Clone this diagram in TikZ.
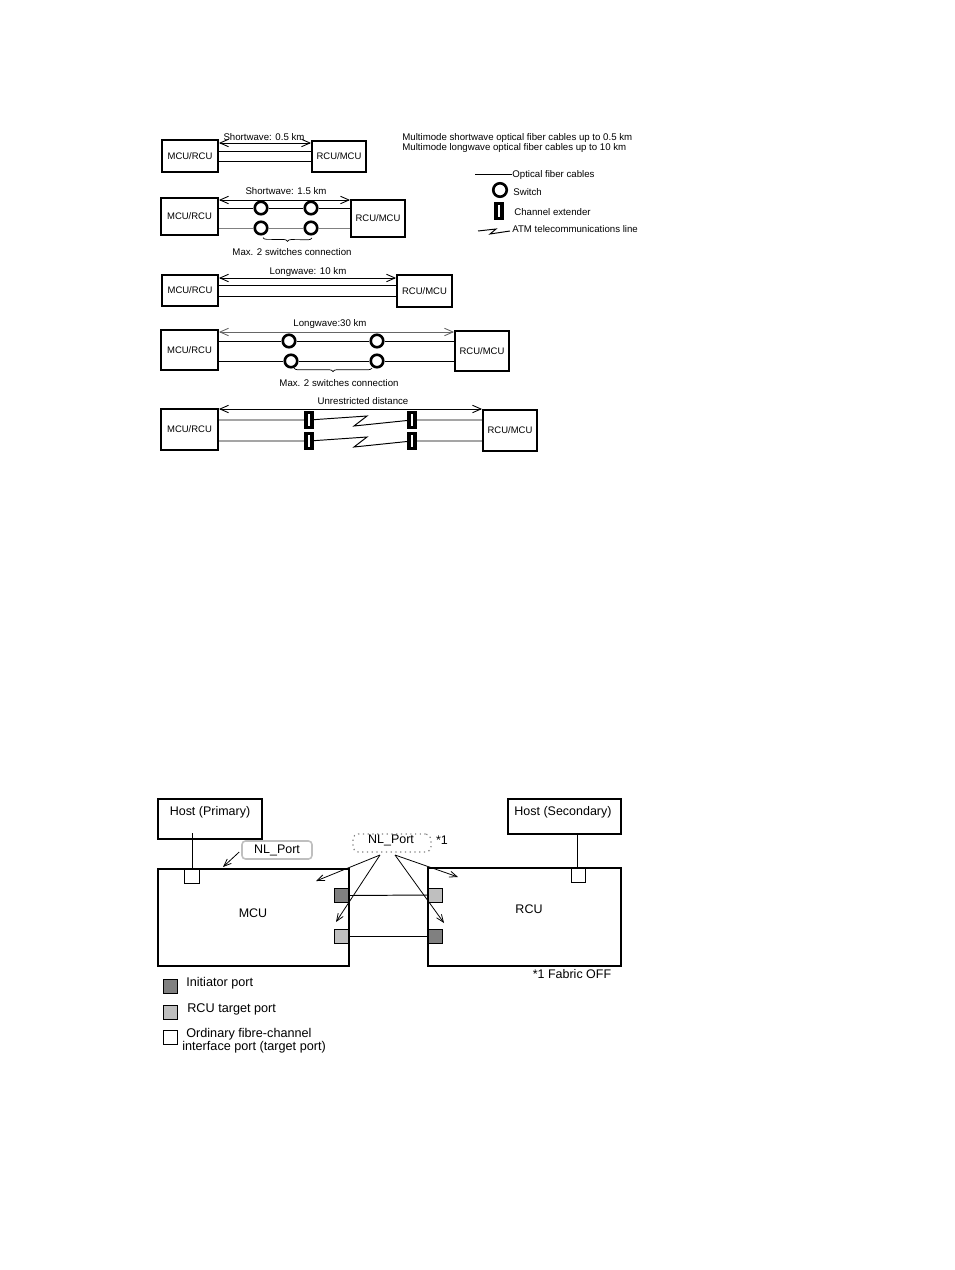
\documentclass[tikz,border=0pt]{standalone}
\usepackage{fontspec}
\setmainfont{Liberation Sans}
\usetikzlibrary{arrows.meta,decorations.pathreplacing}
\tikzset{
  unitbox/.style={draw, line width=1.1pt, minimum width=#1*0.02cm, inner sep=0pt, font=\fontsize{5.4}{6}\selectfont},
  bigbox/.style={draw, line width=1.2pt, inner sep=0pt},
  txt/.style={inner sep=0pt, font=\fontsize{5.5}{6}\selectfont},
  bigtxt/.style={inner sep=0pt, font=\fontsize{7.1}{8}\selectfont},
  keytxt/.style={inner sep=0pt, anchor=west, font=\fontsize{7.2}{8}\selectfont},
  swnode/.style={draw, circle, line width=1.5pt, minimum size=0.25cm, inner sep=0pt},
  extnode/.style={draw, line width=1.8pt, minimum width=0.12cm, minimum height=0.29cm, inner sep=0pt},
  cable/.style={line width=0.55pt},
  distline/.style={{Straight Barb[length=1.7mm,width=1.5mm]}-{Straight Barb[length=1.7mm,width=1.5mm]}, line width=0.5pt},
  pointer/.style={-{Straight Barb[length=1.5mm,width=1.2mm]}, line width=0.45pt},
  portbox/.style={draw, line width=0.55pt, minimum width=0.29cm, minimum height=0.28cm, inner sep=0pt},
  brace2/.style={decorate, decoration={brace, mirror, amplitude=2pt}, line width=0.4pt}
}
\begin{document}
\begin{tikzpicture}[x=0.02cm, y=-0.02cm]
\useasboundingbox (0,0) rectangle (954,1270);
% row 1
\node[unitbox=56, minimum height=0.64cm] (m1) at (190,156) {MCU/RCU};
\node[unitbox=54, minimum height=0.62cm] (r1) at (339,156.5) {RCU/MCU};
\node[txt] (t1) at (264,137) {Shortwave: 0.5 km};
\draw[distline] (m1.east |- 0,143) -- (r1.west |- 0,143);
\draw[cable] (m1.east |- 0,151) -- (r1.west |- 0,151);
\draw[cable] (m1.east |- 0,161) -- (r1.west |- 0,161);
% row 2
\node[unitbox=57, minimum height=0.74cm] (m2) at (189.5,216.5) {MCU/RCU};
\node[unitbox=54, minimum height=0.74cm] (r2) at (378,218.5) {RCU/MCU};
\node[txt] (t2) at (286,191) {Shortwave: 1.5 km};
\node[swnode] (s21) at (261,208) {};
\node[swnode] (s22) at (311,208) {};
\node[swnode] (s23) at (261,228) {};
\node[swnode] (s24) at (311,228) {};
\node[txt] (b2) at (292,252) {Max. 2 switches connection};
\draw[distline] (m2.east |- 0,200) -- (r2.west |- 0,200);
\draw[cable] (m2.east |- s21) -- (s21) -- (s22) -- (r2.west |- s22);
\draw[cable, gray] (m2.east |- s23) -- (s23) -- (s24) -- (r2.west |- s24);
\draw[brace2] (s23.south) ++(2,2) -- (312,238);
% row 3
\node[unitbox=56, minimum height=0.62cm] (m3) at (190,290.5) {MCU/RCU};
\node[unitbox=55, minimum height=0.64cm] (r3) at (424.5,291) {RCU/MCU};
\node[txt] (t3) at (308,272) {Longwave: 10 km};
\draw[distline] (m3.east |- 0,278) -- (r3.west |- 0,278);
\draw[cable] (m3.east |- 0,285) -- (r3.west |- 0,285);
\draw[cable] (m3.east |- 0,296) -- (r3.west |- 0,296);
% row 4
\node[unitbox=57, minimum height=0.8cm] (m4) at (189.5,350) {MCU/RCU};
\node[unitbox=54, minimum height=0.8cm] (r4) at (482,351) {RCU/MCU};
\node[txt] (t4) at (330,324) {Longwave:30 km};
\node[swnode] (s41) at (289,341) {};
\node[swnode] (s42) at (377,341) {};
\node[swnode] (s43) at (291,361) {};
\node[swnode] (s44) at (377,361) {};
\node[txt] (b4) at (339,383) {Max. 2 switches connection};
\draw[distline, gray!80!black] (m4.east |- 0,332) -- (r4.west |- 0,332);
\draw[cable] (m4.east |- s41) -- (s41) -- (s42) -- (r4.west |- s42);
\draw[cable] (m4.east |- s43) -- (s43) -- (s44) -- (r4.west |- s44);
\draw[brace2] (294,368) -- (372,368);
% row 5
\node[unitbox=57, minimum height=0.82cm] (m5) at (189.5,429.5) {MCU/RCU};
\node[unitbox=54, minimum height=0.82cm] (r5) at (510,430.5) {RCU/MCU};
\node[txt] (t5) at (363,401) {Unrestricted distance};
\node[extnode] (e51) at (309,420) {};
\node[extnode] (e52) at (412,420) {};
\node[extnode] (e53) at (309,441) {};
\node[extnode] (e54) at (412,441) {};
\draw[distline] (m5.east |- 0,409) -- (r5.west |- 0,409);
\draw[cable] (m5.east |- e51) -- (e51) -- ++(58,-4) -- ++(-13,10) -- (e52) -- (r5.west |- e52);
\draw[cable] (m5.east |- e53) -- (e53) -- ++(58,-4) -- ++(-13,10) -- (e54) -- (r5.west |- e54);
% legend, top
\node[txt, anchor=west] (n1) at (402,138) {Multimode shortwave optical fiber cables up to 0.5 km};
\node[txt, anchor=west] (n2) at (402,148) {Multimode longwave optical fiber cables up to 10 km};
\coordinate (lc) at (475,174);
\node[txt, anchor=west] (l1) at (512,175) {Optical fiber cables};
\draw[cable] (lc) -- (lc -| l1.west);
\node[swnode, minimum size=0.27cm] (l2s) at (500,190) {};
\node[txt, anchor=west] (l2) at (513,192) {Switch};
\node[extnode] (l3s) at (499,211) {};
\node[txt, anchor=west] (l3) at (514,212) {Channel extender};
\coordinate (la) at (478,231);
\node[txt, anchor=west] (l4) at (512,229) {ATM telecommunications line};
\draw[cable] (la) -- ++(18,-2) -- ++(-6,5) -- ++(20,-3);
% lower diagram
\node[bigbox, minimum width=2.08cm, minimum height=0.8cm] (hp) at (210,819) {};
\node[bigtxt] (hpt) at (210,812) {Host (Primary)};
\node[bigbox, minimum width=2.26cm, minimum height=0.7cm] (hs) at (564.5,816.5) {};
\node[bigtxt] (hst) at (563,812) {Host (Secondary)};
\node[bigbox, minimum width=3.82cm, minimum height=1.94cm] (mcu) at (253.5,917.5) {};
\node[bigtxt] at (253,913) {MCU};
\node[bigbox, minimum width=3.86cm, minimum height=1.96cm] (rcu) at (524.5,917) {};
\node[bigtxt] at (529,909) {RCU};
% ports
\node[portbox] (pm) at (192,876) {};
\node[portbox, minimum width=0.27cm] (pr) at (578.5,875) {};
\node[portbox, fill=gray] (m1p) at (341.5,895.5) {};
\node[portbox, fill=lightgray] (m2p) at (341.5,936) {};
\node[portbox, fill=lightgray] (r1p) at (435.5,895) {};
\node[portbox, fill=gray] (r2p) at (435.5,936) {};
\coordinate (hpstub) at (192,833);
\draw[cable] (hpstub) -- (pm.north);
\draw[cable] (hs.south -| 577,0) -- (577,868);
\draw[cable] (m1p.east) -- (r1p.west);
\draw[cable] (m2p.east) -- (r2p.west);
% labels
\node[draw=lightgray, line width=0.9pt, rounded corners=2pt, minimum width=1.4cm, minimum height=0.36cm, inner sep=0pt, font=\fontsize{7.1}{8}\selectfont] (nla) at (277,850) {NL\_Port};
\node[draw=gray, dotted, line width=0.7pt, rounded corners=3pt, minimum width=1.56cm, minimum height=0.36cm, inner sep=0pt] (nlb) at (392,843) {};
\node[bigtxt] (nlbt) at (391,840) {NL\_Port};
\node[bigtxt] (star) at (442,840) {*1};
\coordinate (al) at (223,867);
\draw[pointer] (nla.west) ++(-2,2) -- (al);
\coordinate (bl) at (380,855);
\coordinate (br) at (395,855);
\coordinate (al1) at (316,881);
\coordinate (al2) at (336,922);
\coordinate (ar1) at (458,877);
\coordinate (ar2) at (444,923);
\draw[pointer] (bl) -- (al1);
\draw[pointer] (bl) -- (al2);
\draw[pointer] (br) -- (ar1);
\draw[pointer] (br) -- (ar2);
\node[bigtxt] (fab) at (572,974) {*1 Fabric OFF};
% legend, bottom
\node[portbox, fill=gray] (k1) at (170.5,986) {};
\node[portbox, fill=lightgray] (k2) at (170.5,1012.5) {};
\node[portbox] (k3) at (170.5,1037.5) {};
\node[keytxt] (k1t) at (186,983) {Initiator port};
\node[keytxt] (k2t) at (187,1009) {RCU target port};
\node[keytxt] (k3t) at (186,1034) {Ordinary fibre-channel};
\node[keytxt] (k4t) at (182,1047) {interface port (target port)};
\end{tikzpicture}
\end{document}
